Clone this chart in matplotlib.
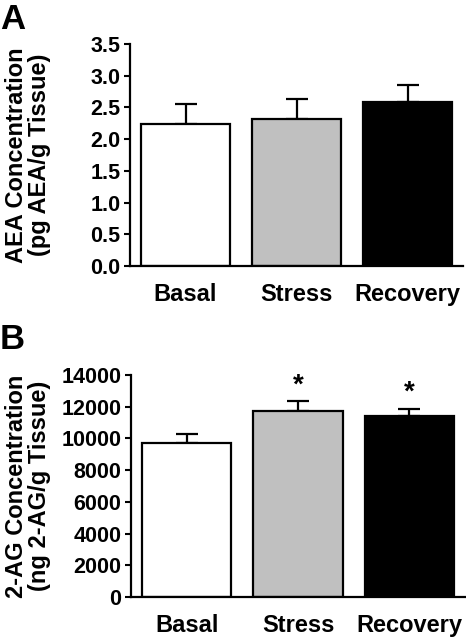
import numpy as np
import matplotlib
matplotlib.use("Agg")
import matplotlib.pyplot as plt

plt.rcParams["font.family"] = ["Liberation Sans", "DejaVu Sans"]
plt.rcParams["font.weight"] = "bold"

GROUPS = ["Basal", "Stress", "Recovery"]
COLORS = ["white", "#c0c0c0", "black"]
AEA_MEAN = [2.24, 2.32, 2.585]
AEA_SEM = [0.32, 0.31, 0.265]
AG_MEAN = [9700, 11750, 11400]
AG_SEM = [570, 590, 480]
AG_SIG = ["", "*", "*"]

fig = plt.figure(figsize=(4.66, 6.38), dpi=100)
axA = fig.add_axes([130 / 466, 1 - 266 / 638, 333 / 466, 222 / 638])
axB = fig.add_axes([131 / 466, 1 - 597 / 638, 334 / 466, 222 / 638])


def draw(ax, means, sems, ylim, yticks, fmt, ylabel):
    x = np.arange(len(GROUPS))
    ax.errorbar(x, means, yerr=[np.zeros(len(sems)), sems], fmt="none",
                ecolor="black", elinewidth=1.6, capsize=8, capthick=1.6, zorder=1)
    ax.bar(x, means, width=0.8, color=COLORS, edgecolor="black", linewidth=1.6, zorder=2)
    ax.set_xlim(-0.5, 2.5)
    ax.set_ylim(*ylim)
    ax.set_yticks(yticks)
    ax.set_yticklabels([fmt % v for v in yticks], fontsize=15.5, fontweight="bold")
    ax.set_xticks(x)
    ax.set_xticklabels(GROUPS, fontsize=17, fontweight="bold")
    ax.tick_params(axis="x", length=0, pad=12)
    ax.tick_params(axis="y", length=4, width=1.5, direction="out", pad=3)
    for s in ["top", "right"]:
        ax.spines[s].set_visible(False)
    for s in ["left", "bottom"]:
        ax.spines[s].set_linewidth(1.6)
    pos = ax.get_position()
    fig.text(28 / 466, (pos.y0 + pos.y1) / 2, ylabel, rotation=90, ha="center", va="center",
             fontsize=17, fontweight="bold", linespacing=1.05, multialignment="center")
    return x


draw(axA, AEA_MEAN, AEA_SEM, (0, 3.5), np.arange(0, 3.51, 0.5), "%.1f",
     "AEA Concentration\n(pg AEA/g Tissue)")
x = draw(axB, AG_MEAN, AG_SEM, (0, 14000), np.arange(0, 14001, 2000), "%d",
         "2-AG Concentration\n(ng 2-AG/g Tissue)")
for xi, m, s, t in zip(x, AG_MEAN, AG_SEM, AG_SIG):
    if t:
        axB.text(xi, m + s + 200, t, ha="center", va="bottom", fontsize=20, fontweight="bold")

fig.text(0.0, 1 - 3 / 638, "A", fontsize=25, fontweight="bold", ha="left", va="top")
fig.text(0.0, 1 - 323 / 638, "B", fontsize=25, fontweight="bold", ha="left", va="top")

fig.savefig("out.png", dpi=100)
